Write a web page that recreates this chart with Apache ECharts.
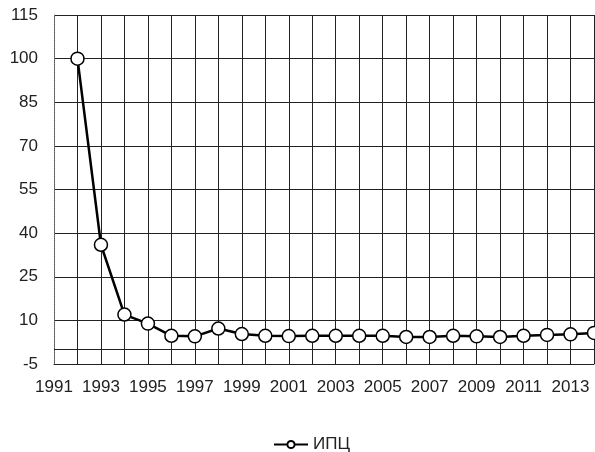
<!DOCTYPE html>
<html><head><meta charset="utf-8">
<script src="https://cdn.jsdelivr.net/npm/echarts@6/dist/echarts.min.js"></script>
<style>html,body{margin:0;padding:0;background:#fff}#c{width:595px;height:452px}</style>
</head><body><div id="c"></div>
<script>
var years = ['1991','1992','1993','1994','1995','1996','1997','1998','1999','2000','2001','2002','2003','2004','2005','2006','2007','2008','2009','2010','2011','2012','2013','2014'];
var cpi = ['-',100,36,12,8.9,4.7,4.5,7.2,5.3,4.7,4.6,4.7,4.7,4.7,4.7,4.3,4.3,4.7,4.5,4.3,4.7,5.0,5.2,5.7];
var seriesName = 'ИПЦ';
var yMin = -5, yMax = 115, yStep = 15;

var chart = echarts.init(document.getElementById('c'), null, {renderer:'canvas'});
var font = 'Liberation Sans, Arial, sans-serif';
chart.setOption({
  animation:false,
  backgroundColor:'#fff',
  grid:{left:54,right:1,top:15,bottom:88,containLabel:false},
  xAxis:{
    type:'category', data:years, boundaryGap:false,
    axisLine:{show:true,onZero:false,lineStyle:{color:'#222',width:1}},
    axisTick:{show:false},
    axisLabel:{interval:1,color:'#222',fontSize:17,fontFamily:font,margin:15},
    splitLine:{show:true,interval:0,lineStyle:{color:'#222',width:1}}
  },
  yAxis:{
    type:'value', min:yMin, max:yMax, interval:yStep,
    axisLine:{show:true,lineStyle:{color:'#777',width:1,type:'dotted'}},
    axisTick:{show:false},
    axisLabel:{color:'#222',fontSize:17,fontFamily:font,margin:16},
    splitLine:{show:true,lineStyle:{color:'#222',width:1}}
  },
  legend:{
    show:true, top:431, left:268,
    itemWidth:34, itemHeight:9, itemGap:6,
    lineStyle:{width:2},
    textStyle:{color:'#222',fontSize:17,fontFamily:font},
    data:[seriesName]
  },
  series:[{
    name:seriesName, type:'line', data:cpi,
    symbol:'circle', symbolSize:13, clip:false,
    lineStyle:{color:'#000',width:2.5},
    itemStyle:{color:'#fff',borderColor:'#000',borderWidth:1.5},
    markLine:{silent:true,symbol:'none',label:{show:false},
      lineStyle:{color:'#222',width:1,type:'solid'},
      data:[{yAxis:0}]}
  }]
});
</script></body></html>
